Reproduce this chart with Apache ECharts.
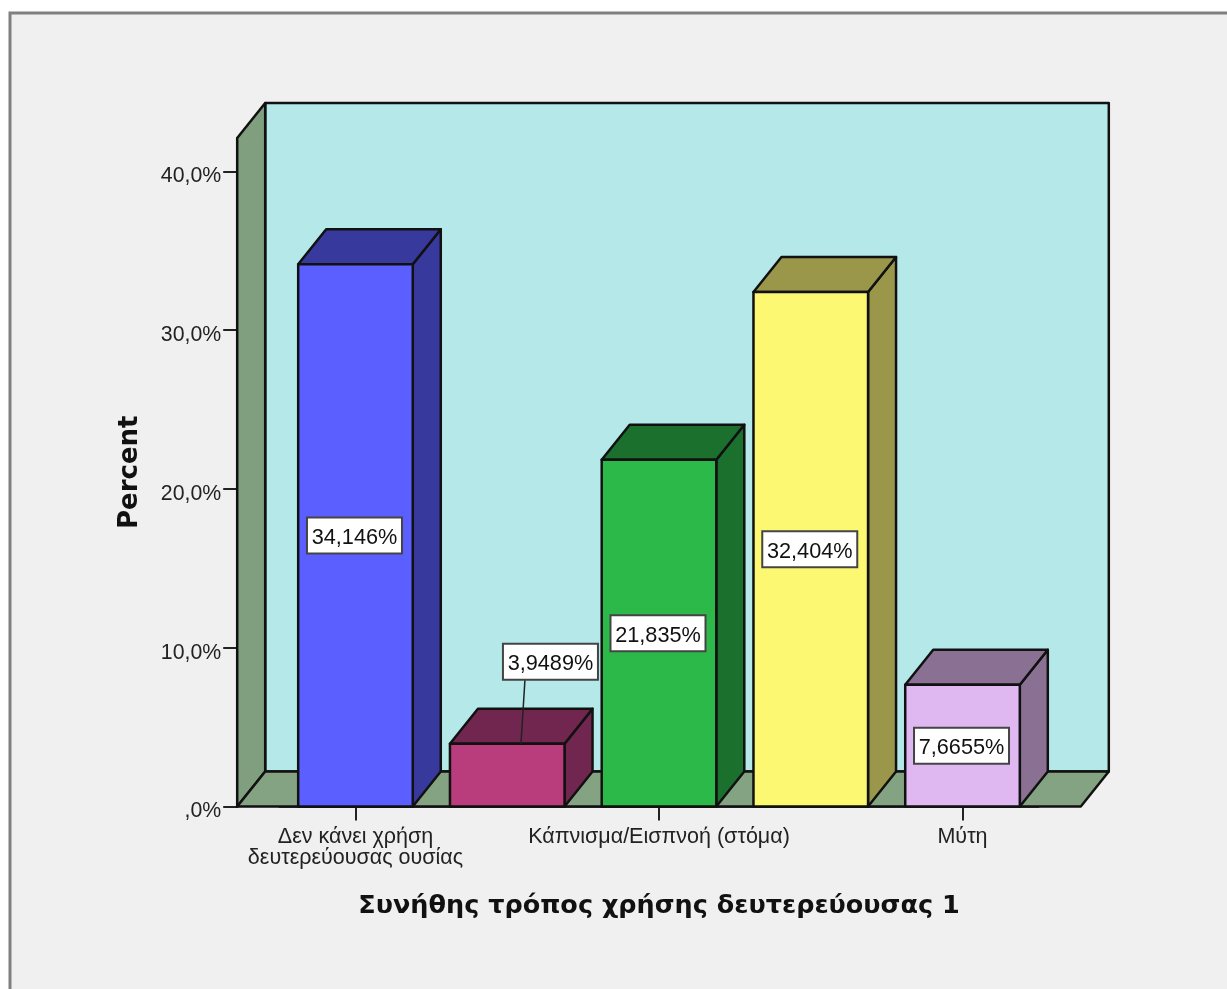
<!DOCTYPE html>
<html><head><meta charset="utf-8">
<style>html,body{margin:0;padding:0;background:#fff}#c{width:1227px;height:989px;filter:blur(0.55px)}</style>
<script src="https://cdn.jsdelivr.net/npm/echarts@6/dist/echarts.min.js"></script>
</head><body><div id="c"></div>
<script>
const categories = ["Δεν κάνει χρήση\nδευτερεύουσας ουσίας", "", "Κάπνισμα/Εισπνοή (στόμα)", "", "Μύτη"];
const percents = [34.146, 3.9489, 21.835, 32.404, 7.6655];
const frontColors = ["#5c5fff", "#b93c7c", "#2db84a", "#fcf872", "#dfb8f2"];
const sideColors = ["#38399c", "#70264f", "#1b702d", "#9a974a", "#8a7194"];
const yTicks = [0, 10, 20, 30, 40];
const yMax = 42.1;

const DX = 28, DY = -35, PAD = 42.4, BAR = 0.755;
const LINE = '#111', LW = 2.5;
const fmtTick = v => (v === 0 ? ',0%' : v.toFixed(1).replace('.', ',') + '%');
const fmtVal = v => v.toPrecision(5).replace('.', ',') + '%';
const chart = echarts.init(document.getElementById('c'), null, {renderer: 'canvas'});

function poly(points, fill, z2) {
  return {type: 'polygon', z2: z2 || 0, shape: {points},
    style: {fill, stroke: LINE, lineWidth: LW, lineJoin: 'round'}};
}
function renderWalls(params) {
  const g = params.coordSys;
  const l = g.x - PAD, r = g.x + g.width + PAD, t = g.y, b = g.y + g.height;
  return {type: 'group', children: [
    poly([[l + DX, t + DY], [r + DX, t + DY], [r + DX, b + DY], [l + DX, b + DY]], '#b5e8e8'),
    poly([[l, t], [l + DX, t + DY], [l + DX, b + DY], [l, b]], '#7f9f7f'),
    poly([[l, b], [l + DX, b + DY], [r + DX, b + DY], [r, b]], '#83a382')
  ]};
}
function renderBar(params, api) {
  const i = api.value(0), v = api.value(1);
  const base = api.coord([i, 0]), top = api.coord([i, v]);
  const w = api.size([1, 0])[0] * BAR;
  const x0 = base[0] - w / 2, x1 = base[0] + w / 2, yb = base[1], yt = top[1];
  const low = (yb - yt) < 70;
  const cx = low ? x0 + 100.5 : base[0] - 1;
  const cy = low ? yt - 82 : (yb + yt) / 2;
  const children = [
    poly([[x1, yb], [x1 + DX, yb + DY], [x1 + DX, yt + DY], [x1, yt]], sideColors[i]),
    poly([[x0, yt], [x0 + DX, yt + DY], [x1 + DX, yt + DY], [x1, yt]], sideColors[i]),
    poly([[x0, yb], [x0, yt], [x1, yt], [x1, yb]], frontColors[i])
  ];
  if (low) children.push({type: 'line', z2: 5, shape: {x1: x0 + 75, y1: cy + 18, x2: x0 + 71, y2: yt},
    style: {stroke: '#222', lineWidth: 1.5}});
  children.push({type: 'rect', z2: 6, shape: {x: cx - 47.5, y: cy - 18, width: 95, height: 36},
    style: {fill: '#fff', stroke: '#444', lineWidth: 2}});
  children.push({type: 'text', z2: 7, x: cx, y: cy + 2.5, style: {
    text: fmtVal(v), x: 0, y: 0, align: 'center', verticalAlign: 'middle',
    font: '21.7px "Liberation Sans"', fill: '#111'}});
  return {type: 'group', children};
}
chart.setOption({
  animation: false,
  backgroundColor: '#fff',
  graphic: [{type: 'rect', z: -1, silent: true, shape: {x: 10, y: 13, width: 1230, height: 990},
    style: {fill: '#f0f0f0', stroke: '#808080', lineWidth: 3}}],
  grid: {left: 279.6, width: 758.8, top: 138, height: 668.5, containLabel: false},
  xAxis: {type: 'category', data: categories,
    axisLine: {show: true, lineStyle: {color: '#111', width: 2.5}},
    axisTick: {show: true, alignWithLabel: true, length: 14, interval: i => categories[i] !== '', lineStyle: {color: '#222', width: 2}},
    axisLabel: {show: true, interval: 0, margin: 20, color: '#222', fontFamily: 'Liberation Sans', fontSize: 21.5, lineHeight: 21, hideOverlap: false},
    name: 'Συνήθης τρόπος χρήσης δευτερεύουσας 1', nameLocation: 'middle', nameGap: 87,
    nameTextStyle: {fontFamily: 'DejaVu Sans', fontWeight: 'bold', fontSize: 25.5, color: '#111'}},
  yAxis: {type: 'value', min: 0, max: yMax, offset: PAD,
    axisLine: {show: true, lineStyle: {color: '#111', width: 2.5}},
    splitLine: {show: false},
    axisTick: {show: true, customValues: yTicks, length: 14, lineStyle: {color: '#222', width: 2}},
    axisLabel: {show: true, customValues: yTicks, formatter: fmtTick, margin: 16, verticalAlign: 'top', lineHeight: 10, color: '#222', fontFamily: 'Liberation Sans', fontSize: 21.3},
    name: 'Percent', nameLocation: 'middle', nameGap: 94,
    nameTextStyle: {fontFamily: 'DejaVu Sans', fontWeight: 'bold', fontSize: 26, color: '#111'}},
  series: [
    {type: 'custom', z: 1, silent: true, coordinateSystem: 'cartesian2d', data: [[0, 0]], renderItem: renderWalls, clip: false, encode: {x: 0, y: 1}},
    {type: 'custom', z: 2, silent: true, coordinateSystem: 'cartesian2d', data: percents.map((v, i) => [i, v]), renderItem: renderBar, clip: false, encode: {x: 0, y: 1}}
  ]
});
</script></body></html>
